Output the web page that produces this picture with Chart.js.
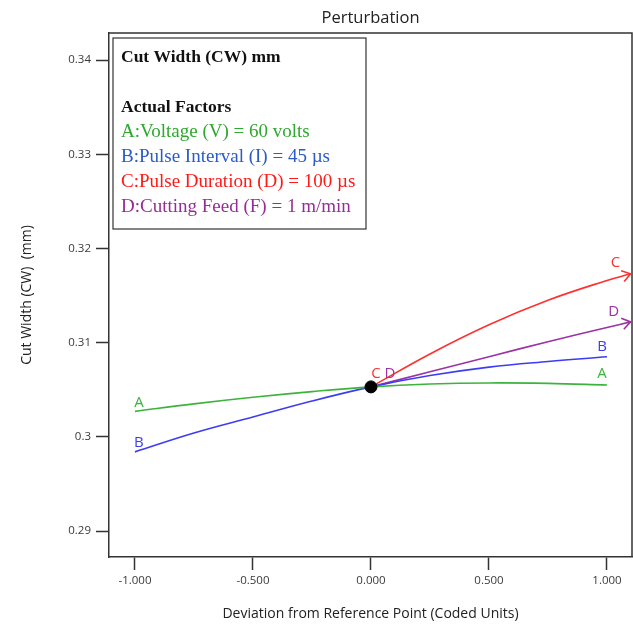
<!DOCTYPE html>
<html>
<head>
<meta charset="utf-8">
<script src="https://cdn.jsdelivr.net/npm/chart.js@4.4.1/dist/chart.umd.min.js"></script>
<style>
  html, body { margin: 0; padding: 0; background: #fff; overflow: hidden; }
  #wrap { width: 633px; height: 629px; }
</style>
</head>
<body>
<div id="wrap"><canvas id="chart"></canvas></div>
<script>
/* Perturbation data (coded units vs cut width, mm) */
const xLeftRight = [-1, -0.75, -0.5, -0.25, 0, 0.25, 0.5, 0.75, 1];
const cwA = [0.3027, 0.3035, 0.3042, 0.3048, 0.3053, 0.3056, 0.30572, 0.30567, 0.3055];
const cwB = [0.2984, 0.3004, 0.3021, 0.3038, 0.3053, 0.3065, 0.3074, 0.3080, 0.3085];

const xRightOnly = [0, 0.25, 0.5, 0.75, 1, 1.1];
const cwC = [0.3053, 0.3088, 0.3119, 0.3145, 0.3166, 0.3173];
const cwD = [0.3053, 0.3069, 0.3085, 0.3101, 0.3116, 0.3122];

const refX = [0];
const refY = [0.3053];

const xTicks = [-1, -0.5, 0, 0.5, 1];
const yTicks = [0.29, 0.30, 0.31, 0.32, 0.33, 0.34];
const yTickLabels = ['0.29', '0.3', '0.31', '0.32', '0.33', '0.34'];

const boxTitle = 'Cut Width (CW) mm';
const boxSub = 'Actual Factors';
const factorNames = [
  'A:Voltage (V) = 60 volts',
  'B:Pulse Interval (I) = 45 µs',
  'C:Pulse Duration (D) = 100 µs',
  'D:Cutting Feed (F) = 1 m/min'
];
const factorLetters = ['A', 'B', 'C', 'D'];

const lineColors = ['#3cb43c', '#3c3cf5', '#ff3030', '#9b32a5'];
const textColors = ['#2fa82f', '#2a5bc8', '#ff1a1a', '#962d96'];

function pts(xs, ys) {
  return xs.map((v, i) => ({ x: v, y: ys[i] }));
}

// extra drawing: frame, factor box, letters, arrow heads
const notes = {
  id: 'notes',
  afterDatasetsDraw(chart) {
    const { ctx, chartArea: a } = chart;
    ctx.save();

    // top and right side of plot frame
    ctx.strokeStyle = '#333';
    ctx.lineWidth = 1.5;
    ctx.beginPath();
    ctx.moveTo(a.left, a.top);
    ctx.lineTo(a.right, a.top);
    ctx.lineTo(a.right, a.bottom);
    ctx.stroke();

    // factor box
    const bx = a.left + 4, by = a.top + 5;
    ctx.lineWidth = 1.2;
    ctx.strokeRect(bx, by, 253, 191);
    ctx.textBaseline = 'middle';
    ctx.textAlign = 'left';
    ctx.fillStyle = '#111';
    ctx.font = 'bold 17.5px "Liberation Serif"';
    ctx.fillText(boxTitle, bx + 8, by + 19);
    ctx.fillText(boxSub, bx + 8, by + 69);
    ctx.font = '19px "Liberation Serif"';
    factorNames.forEach((t, i) => {
      ctx.fillStyle = textColors[i];
      ctx.fillText(t, bx + 8, by + 94 + i * 25);
    });

    // letters next to the line ends
    ctx.font = '15px "Open Sans"';
    ctx.textAlign = 'center';
    const offs = [
      [[4, -9], [-5, -11]],
      [[4, -9], [-5, -10]],
      [[5, -13], [-15, -11]],
      [[19, -13], [-17, -10]]
    ];
    for (let i = 0; i < 4; i++) {
      const meta = chart.getDatasetMeta(i + 1);
      const p0 = meta.data[0], p1 = meta.data[meta.data.length - 1];
      ctx.fillStyle = lineColors[i];
      ctx.fillText(factorLetters[i], p0.x + offs[i][0][0], p0.y + offs[i][0][1]);
      ctx.fillText(factorLetters[i], p1.x + offs[i][1][0], p1.y + offs[i][1][1]);
    }

    // open arrow heads on C and D
    ctx.lineWidth = 1.6;
    [2, 3].forEach(i => {
      const d = chart.getDatasetMeta(i + 1).data;
      const tip = d[d.length - 1], prev = d[d.length - 2];
      const ang = Math.atan2(tip.y - prev.y, tip.x - prev.x);
      ctx.strokeStyle = lineColors[i];
      ctx.beginPath();
      ctx.moveTo(tip.x - 10 * Math.cos(ang - 0.6), tip.y - 10 * Math.sin(ang - 0.6));
      ctx.lineTo(tip.x, tip.y);
      ctx.lineTo(tip.x - 10 * Math.cos(ang + 0.6), tip.y - 10 * Math.sin(ang + 0.6));
      ctx.stroke();
    });
    ctx.restore();
  }
};

const curve = (data, color) => ({
  type: 'line',
  data: data,
  borderColor: color,
  borderWidth: 1.6,
  pointRadius: 0,
  tension: 0.4,
  fill: false
});

new Chart(document.getElementById('chart'), {
  type: 'line',
  data: {
    datasets: [
      {
        type: 'scatter',
        data: pts(refX, refY),
        pointRadius: 6,
        backgroundColor: '#000',
        borderColor: '#000'
      },
      curve(pts(xLeftRight, cwA), lineColors[0]),
      curve(pts(xLeftRight, cwB), lineColors[1]),
      curve(pts(xRightOnly, cwC), lineColors[2]),
      curve(pts(xRightOnly, cwD), lineColors[3])
    ]
  },
  options: {
    responsive: true,
    maintainAspectRatio: false,
    animation: false,
    layout: { autoPadding: false, padding: { top: 0, right: 1, bottom: 0, left: 0 } },
    plugins: {
      legend: { display: false },
      tooltip: { enabled: false },
      title: {
        display: true,
        text: 'Perturbation',
        fullSize: false,
        color: '#222',
        font: { family: 'Open Sans', size: 16.5, weight: 'normal' },
        padding: { top: 8, bottom: 5.2 }
      }
    },
    scales: {
      x: {
        type: 'linear',
        min: -1.11,
        max: 1.106,
        afterBuildTicks: s => { s.ticks = xTicks.map(v => ({ value: v })); },
        afterFit: s => { s.height = 72; s.paddingLeft = 0; s.paddingRight = 0; },
        ticks: {
          color: '#3a3a3a',
          font: { family: 'Open Sans', size: 11.5 },
          padding: 4,
          maxRotation: 0,
          callback: v => v.toFixed(3)
        },
        grid: {
          drawOnChartArea: false,
          drawTicks: true,
          tickLength: 13,
          tickWidth: 1.5,
          tickColor: '#333'
        },
        border: { display: true, color: '#333', width: 1.5 },
        title: {
          display: true,
          text: 'Deviation from Reference Point (Coded Units)',
          color: '#222',
          font: { family: 'Open Sans', size: 14 },
          padding: { top: 18, bottom: 6.6 }
        }
      },
      y: {
        type: 'linear',
        min: 0.28724,
        max: 0.34287,
        afterBuildTicks: s => { s.ticks = yTicks.map(v => ({ value: v })); },
        afterFit: s => { s.width = 109; s.paddingTop = 0; s.paddingBottom = 0; },
        ticks: {
          color: '#3a3a3a',
          font: { family: 'Open Sans', size: 11.5 },
          padding: 5,
          callback: (v, i) => yTickLabels[i]
        },
        grid: {
          drawOnChartArea: false,
          drawTicks: true,
          tickLength: 13,
          tickWidth: 1.5,
          tickColor: '#333'
        },
        border: { display: true, color: '#333', width: 1.5 },
        title: {
          display: true,
          text: 'Cut Width (CW)  (mm)',
          color: '#222',
          font: { family: 'Open Sans', size: 14 },
          padding: { top: 18.6, bottom: 10 }
        }
      }
    }
  },
  plugins: [notes]
});
</script>
</body>
</html>
